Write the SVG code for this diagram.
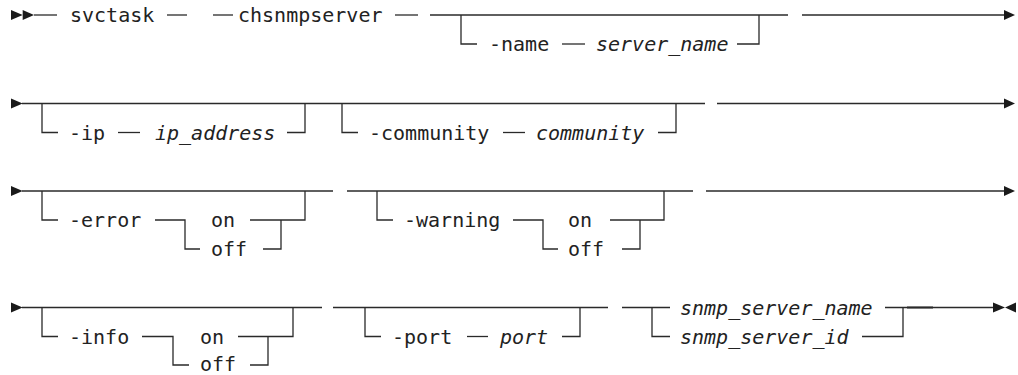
<svg xmlns="http://www.w3.org/2000/svg" width="1018" height="375" viewBox="0 0 1018 375">
<style>
text{font-family:"DejaVu Sans Mono","Liberation Mono",monospace;font-size:20px;fill:#222}
.v{font-style:italic}
.c line,.c path{stroke:#2a2a2a;stroke-width:1.3;fill:none}
.a{fill:#1a1a1a}
</style>
<rect width="1018" height="375" fill="#fff"/>
<g id="connectors" class="c">
<!-- row 1 -->
<polygon class="a" points="11,10 22.7,15 11,20"/>
<polygon class="a" points="22.7,10 34,15 22.7,20"/>
<line x1="34" y1="15" x2="57" y2="15"/>
<line x1="167" y1="15" x2="187" y2="15"/>
<line x1="213" y1="15" x2="233" y2="15"/>
<line x1="395" y1="15" x2="418" y2="15"/>
<line x1="430" y1="15" x2="788" y2="15"/>
<path d="M461,15 V44 H477"/>
<line x1="562" y1="44" x2="585" y2="44"/>
<path d="M737,44 H759 V15"/>
<line x1="802" y1="15" x2="1005" y2="15"/>
<polygon class="a" points="1004,10 1015,15 1004,20"/>
<!-- row 2 -->
<polygon class="a" points="11,98.5 22.7,103.5 11,108.5"/>
<line x1="22" y1="103.5" x2="705" y2="103.5"/>
<path d="M42,103.5 V132.5 H58"/>
<line x1="118" y1="132.5" x2="140" y2="132.5"/>
<path d="M287,132.5 H305 V103.5"/>
<path d="M342,103.5 V132.5 H358"/>
<line x1="503" y1="132.5" x2="525" y2="132.5"/>
<path d="M658,132.5 H676 V103.5"/>
<line x1="717" y1="103.5" x2="1005" y2="103.5"/>
<polygon class="a" points="1004,98.5 1015,103.5 1004,108.5"/>
<!-- row 3 -->
<polygon class="a" points="11,186 22.7,191 11,196"/>
<line x1="22" y1="191" x2="333" y2="191"/>
<path d="M42,191 V220 H58"/>
<path d="M155,220 H185 V249 H200"/>
<path d="M250,220 H305 V191"/>
<path d="M263,249 H281 V220"/>
<line x1="347" y1="191" x2="693" y2="191"/>
<path d="M377,191 V220 H393"/>
<path d="M513,220 H543 V249 H558"/>
<path d="M610,220 H664 V191"/>
<path d="M622,249 H640 V220"/>
<line x1="706" y1="191" x2="1005" y2="191"/>
<polygon class="a" points="1004,186 1015,191 1004,196"/>
<!-- row 4 -->
<polygon class="a" points="11,302.5 22.7,307.5 11,312.5"/>
<line x1="22" y1="307.5" x2="322" y2="307.5"/>
<path d="M42,307.5 V336.5 H58"/>
<path d="M142,336.5 H173 V365 H189"/>
<path d="M238,336.5 H293 V307.5"/>
<path d="M250,365 H268 V336.5"/>
<line x1="333" y1="307.5" x2="608" y2="307.5"/>
<path d="M365,307.5 V336.5 H381"/>
<line x1="467" y1="336.5" x2="488" y2="336.5"/>
<path d="M562,336.5 H580 V307.5"/>
<line x1="622" y1="307.5" x2="670" y2="307.5"/>
<path d="M652,307.5 V336.5 H670"/>
<line x1="885" y1="307.5" x2="994" y2="307.5"/>
<line x1="907" y1="307.5" x2="933" y2="307.5" style="stroke-width:2"/>
<path d="M862,336.5 H903 V307.5"/>
<polygon class="a" points="993,302.5 1005,307.5 993,312.5"/>
<polygon class="a" points="1016,302.5 1005,307.5 1016,312.5"/>
</g>
<g id="n-svctask"><text x="70" y="22">svctask</text></g>
<g id="n-chsnmpserver"><text x="238" y="22">chsnmpserver</text></g>
<g id="n-name"><text x="489" y="51">-name</text></g>
<g id="n-server_name"><text class="v" x="596" y="51">server_name</text></g>
<g id="n-ip"><text x="69" y="139.5">-ip</text></g>
<g id="n-ip_address"><text class="v" x="155" y="139.5">ip_address</text></g>
<g id="n-community"><text x="369" y="139.5">-community</text></g>
<g id="n-community_val"><text class="v" x="536" y="139.5">community</text></g>
<g id="n-error"><text x="69" y="227">-error</text></g>
<g id="n-error_on"><text x="211" y="227">on</text></g>
<g id="n-error_off"><text x="211" y="256">off</text></g>
<g id="n-warning"><text x="404" y="227">-warning</text></g>
<g id="n-warning_on"><text x="568" y="227">on</text></g>
<g id="n-warning_off"><text x="568" y="256">off</text></g>
<g id="n-info"><text x="69" y="343.5">-info</text></g>
<g id="n-info_on"><text x="200" y="343.5">on</text></g>
<g id="n-info_off"><text x="200" y="371">off</text></g>
<g id="n-port"><text x="392" y="343.5">-port</text></g>
<g id="n-port_val"><text class="v" x="500" y="343.5">port</text></g>
<g id="n-snmp_server_name"><text class="v" x="680" y="314.5">snmp_server_name</text></g>
<g id="n-snmp_server_id"><text class="v" x="680" y="343.5">snmp_server_id</text></g>
</svg>
